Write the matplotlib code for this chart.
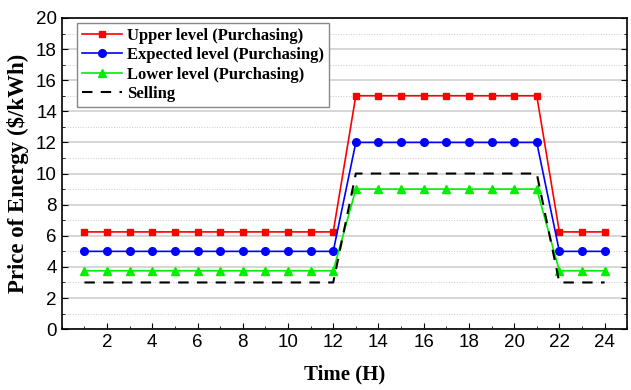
import matplotlib
matplotlib.use("Agg")
import matplotlib.pyplot as plt
from matplotlib.ticker import MultipleLocator

hours = list(range(1, 25))
upper = [6.25] * 12 + [15] * 9 + [6.25] * 3
expected = [5] * 12 + [12] * 9 + [5] * 3
lower = [3.75] * 12 + [9] * 9 + [3.75] * 3
selling = [3] * 12 + [10] * 9 + [3] * 3

fig = plt.figure(figsize=(6.31, 3.9), dpi=100)
ax = fig.add_axes([0.098, 0.156, 0.896, 0.798])

ax.plot(hours, upper, color='red', marker='s', ms=5, lw=1.2, label='Upper level (Purchasing)')
ax.plot(hours, expected, color='blue', marker='o', ms=5.5, lw=1.2, label='Expected level (Purchasing)')
ax.plot(hours, lower, color='#00ee00', marker='^', ms=6, lw=1.2, label='Lower level (Purchasing)')
ax.plot(hours, selling, color='black', ls=(0, (5, 4)), lw=1.5, label='Selling')

ax.set_xlim(0, 25)
ax.set_ylim(0, 20)
ax.xaxis.set_major_locator(MultipleLocator(2))
ax.xaxis.set_minor_locator(MultipleLocator(1))
ax.yaxis.set_major_locator(MultipleLocator(2))
ax.yaxis.set_minor_locator(MultipleLocator(1))
ax.set_xticks(range(2, 25, 2))

ax.grid(which='major', axis='y', color='#d0d0d0', lw=1.2)
ax.grid(which='minor', axis='y', color='#c8c8c8', lw=0.7, ls=':')
ax.set_axisbelow(True)

ax.tick_params(which='both', direction='in', right=True, labelsize=13.5)
ax.tick_params(which='major', length=4)
ax.tick_params(which='minor', length=2.5)
for lab in ax.get_xticklabels() + ax.get_yticklabels():
    lab.set_family('Liberation Sans')
for sp in ax.spines.values():
    sp.set_linewidth(1.2)

ax.set_xlabel('Time (H)', family='Liberation Serif', fontweight='bold', fontsize=15, labelpad=10)
ax.set_ylabel('Price of Energy ($/kWh)', family='Liberation Serif', fontweight='bold', fontsize=16.5, labelpad=5)

leg = ax.legend(loc='upper left', bbox_to_anchor=(0.027, 0.984), borderaxespad=0,
                prop={'family': 'Liberation Serif', 'weight': 'bold', 'size': 12},
                fancybox=False, edgecolor='#888888', framealpha=1, handlelength=2.4,
                borderpad=0.3, labelspacing=0.2, handletextpad=0.3)
leg.get_frame().set_linewidth(1.0)

plt.savefig('out.png')
